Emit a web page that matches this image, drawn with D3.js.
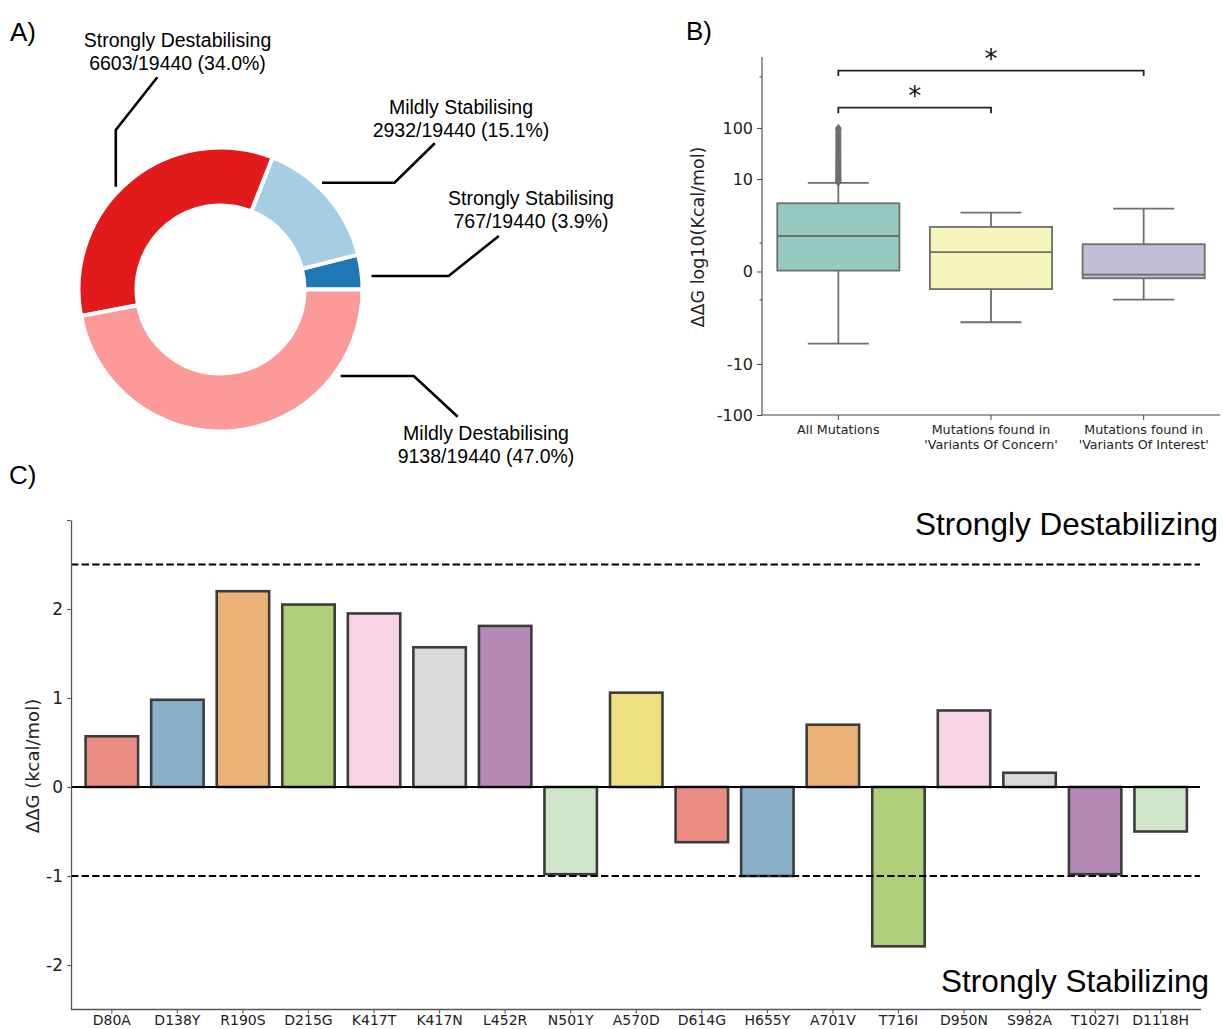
<!DOCTYPE html>
<html>
<head>
<meta charset="utf-8">
<script src="https://cdn.jsdelivr.net/npm/d3@7/dist/d3.min.js"></script>
<style>
  html, body { margin: 0; padding: 0; background: #ffffff; }
  svg { display: block; }
</style>
</head>
<body>
<svg id="chart" width="1223" height="1029"></svg>
<script>
// ---------------- DATA ----------------
// Panel A: donut
const pieLabels = ["Strongly Stabilising", "Mildly Stabilising", "Strongly Destabilising", "Mildly Destabilising"];
const pieCounts = [767, 2932, 6603, 9138];
const pieTotal = 19440;
const pieColors = ["#1f78b4", "#a6cee3", "#e31a1c", "#fb9a99"];

// Panel B: box plots (values in kcal/mol, drawn on symlog axis)
const boxGroups = [["All Mutations"], ["Mutations found in", "'Variants Of Concern'"], ["Mutations found in", "'Variants Of Interest'"]];
const boxQ1 = [0.03, -0.62, -0.24];
const boxMedian = [1.25, 0.68, -0.11];
const boxQ3 = [3.35, 1.57, 0.96];
const whiskerLow = [-4.02, -1.79, -0.99];
const whiskerHigh = [8.37, 2.19, 2.63];
const outliersAll = [8.6, 9.0, 9.4, 9.9, 10.4, 11, 11.7, 12.5, 13.3, 14.2, 15.2, 16.3, 17.5, 18.8, 20.2, 21.8, 23.5, 25.5, 27.6, 30, 32.6, 35.5, 38.6, 42, 46, 50, 55, 60, 66, 72, 79, 87, 95, 99];
const boxTickValues = [-100, -10, 0, 10, 100];
const boxTickLabels = ["-100", "-10", "0", "10", "100"];
const boxMinorTicks = [-1, 1, 1000];
const sigPairs = [[0, 1], [0, 2]];
const sigLevels = [250, 1330];
const sigLabels = ["*", "*"];

// Panel C: bars
const mutations = ["D80A", "D138Y", "R190S", "D215G", "K417T", "K417N", "L452R", "N501Y", "A570D", "D614G", "H655Y", "A701V", "T716I", "D950N", "S982A", "T1027I", "D1118H"];
const ddg = [0.57, 0.98, 2.2, 2.05, 1.95, 1.57, 1.81, -0.98, 1.06, -0.62, -1.0, 0.7, -1.79, 0.86, 0.16, -0.98, -0.5];
const barTickValues = [-2, -1, 0, 1, 2, 3];
const thresholds = [2.5, -1];
const regionLabels = ["Strongly Destabilizing", "Strongly Stabilizing"];

// ---------------- HELPERS ----------------
const svg = d3.select("#chart");
svg.append("rect").attr("width", 1223).attr("height", 1029).attr("fill", "#fff");
const HELV = "'Liberation Sans', Arial, Helvetica, sans-serif";
const DEJA = "'DejaVu Sans', sans-serif";
function desat(c, p) { const h = d3.hsl(c); h.s *= p; return h.formatHex(); }

// panel letters
[["A)", 10, 41], ["B)", 686, 40], ["C)", 9, 484]].forEach(([t, x, y]) => {
  svg.append("text").attr("x", x).attr("y", y).attr("font-family", HELV)
    .attr("font-size", 26).attr("fill", "#000").text(t);
});

// ---------------- PANEL A ----------------
(function () {
  const cx = 220.5, cy = 289.5;
  const g = svg.append("g").attr("transform", `translate(${cx},${cy})`);
  const pie = d3.pie().sort(null).startAngle(Math.PI / 2).endAngle(Math.PI / 2 - 2 * Math.PI);
  const arcs = pie(pieCounts);
  const arc = d3.arc().innerRadius(84).outerRadius(142);
  g.selectAll("path").data(arcs).enter().append("path")
    .attr("d", arc).attr("fill", (d, i) => pieColors[i])
    .attr("stroke", "#fff").attr("stroke-width", 4).attr("stroke-linejoin", "miter");

  // annotation layout (leader-line geometry in panel pixels)
  const ann = [
    { pts: [[371.5, 276], [448.6, 276], [498.8, 236]], tx: 531, ty: 205 },
    { pts: [[322, 182.7], [394.5, 182.7], [434.8, 143.3]], tx: 461, ty: 114.3 },
    { pts: [[115.8, 186.7], [115.8, 130], [157.3, 77.3]], tx: 177.5, ty: 47 },
    { pts: [[340.7, 376], [413.8, 376], [457.7, 416.7]], tx: 486, ty: 440 }
  ];
  const line = d3.line();
  pieLabels.forEach((lab, i) => {
    const a = ann[i];
    svg.append("path").attr("d", line(a.pts)).attr("fill", "none")
      .attr("stroke", "#000").attr("stroke-width", 2.6);
    const pct = (pieCounts[i] / pieTotal * 100).toFixed(1);
    const t = svg.append("text").attr("font-family", HELV).attr("font-size", 19.5)
      .attr("text-anchor", "middle").attr("fill", "#000");
    t.append("tspan").attr("x", a.tx).attr("y", a.ty).text(lab);
    t.append("tspan").attr("x", a.tx).attr("y", a.ty + 23).text(`${pieCounts[i]}/${pieTotal} (${pct}%)`);
  });
})();

// ---------------- PANEL B ----------------
(function () {
  const L = 2, base = 10, linscale = 1 / (1 - 1 / base);
  const T = v => { const a = Math.abs(v); const s = Math.sign(v); return a <= L ? s * a / L * linscale : s * (linscale + Math.log10(a / L)); };
  const left = 762, right = 1220, top = 57, bottom = 415;
  const yT = d3.scaleLinear().domain([T(-100), T(2450)]).range([bottom, top]);
  const y = v => yT(T(v));
  const x = d3.scaleBand().domain(d3.range(boxGroups.length)).range([left, right]).paddingInner(0.2).paddingOuter(0.1);
  const boxPal = d3.schemeSet3.slice(0, 3).map(c => desat(c, 0.75));
  const gray = "#6e6e6e";
  const g = svg.append("g");

  boxGroups.forEach((grp, i) => {
    const cxp = x(i) + x.bandwidth() / 2;
    const w = x.bandwidth();
    // whiskers
    g.append("line").attr("x1", cxp).attr("x2", cxp).attr("y1", y(boxQ3[i])).attr("y2", y(whiskerHigh[i]))
      .attr("stroke", gray).attr("stroke-width", 1.8);
    g.append("line").attr("x1", cxp).attr("x2", cxp).attr("y1", y(boxQ1[i])).attr("y2", y(whiskerLow[i]))
      .attr("stroke", gray).attr("stroke-width", 1.8);
    [whiskerHigh[i], whiskerLow[i]].forEach(v => {
      g.append("line").attr("x1", cxp - w / 4).attr("x2", cxp + w / 4).attr("y1", y(v)).attr("y2", y(v))
        .attr("stroke", gray).attr("stroke-width", 1.8);
    });
    g.append("rect").attr("x", x(i)).attr("width", w)
      .attr("y", y(boxQ3[i])).attr("height", y(boxQ1[i]) - y(boxQ3[i]))
      .attr("fill", boxPal[i]).attr("stroke", gray).attr("stroke-width", 1.8);
    g.append("line").attr("x1", x(i)).attr("x2", x(i) + w).attr("y1", y(boxMedian[i])).attr("y2", y(boxMedian[i]))
      .attr("stroke", gray).attr("stroke-width", 1.8);
  });
  // outliers (thin diamonds)
  const c0 = x(0) + x.bandwidth() / 2;
  g.selectAll("path.fl").data(outliersAll).enter().append("path").attr("class", "fl")
    .attr("d", "M0,-4L3,0L0,4L-3,0Z")
    .attr("transform", v => `translate(${c0},${y(v)})`)
    .attr("fill", gray).attr("stroke", gray).attr("stroke-width", 0.6);

  // axes
  g.append("line").attr("x1", left).attr("x2", left).attr("y1", top).attr("y2", bottom).attr("stroke", "#444").attr("stroke-width", 1.1);
  g.append("line").attr("x1", left).attr("x2", right).attr("y1", bottom).attr("y2", bottom).attr("stroke", "#444").attr("stroke-width", 1.1);
  const yAxis = d3.axisLeft(yT).tickValues(boxTickValues.map(T)).tickFormat((d, i) => boxTickLabels[i]).tickSize(5).tickPadding(4).tickSizeOuter(0);
  const ga = g.append("g").attr("transform", `translate(${left},0)`).call(yAxis);
  ga.select(".domain").remove();
  ga.selectAll("line").attr("stroke", "#444");
  ga.selectAll("text").attr("font-family", DEJA).attr("font-size", 16).attr("fill", "#222");
  boxMinorTicks.forEach(v => {
    g.append("line").attr("x1", left - 2.5).attr("x2", left).attr("y1", y(v)).attr("y2", y(v)).attr("stroke", "#444").attr("stroke-width", 1);
  });
  boxGroups.forEach((grp, i) => {
    const cxp = x(i) + x.bandwidth() / 2;
    g.append("line").attr("x1", cxp).attr("x2", cxp).attr("y1", bottom).attr("y2", bottom + 5).attr("stroke", "#444");
    const t = g.append("text").attr("font-family", DEJA).attr("font-size", 12.7).attr("text-anchor", "middle").attr("fill", "#222");
    grp.forEach((ln, k) => t.append("tspan").attr("x", cxp).attr("y", bottom + 19 + k * 15).text(ln));
  });
  g.append("text").attr("transform", `translate(698,237) rotate(-90)`).attr("text-anchor", "middle")
    .attr("dominant-baseline", "central").attr("font-family", DEJA).attr("font-size", 17.5).attr("fill", "#222")
    .text("ΔΔG log10(Kcal/mol)");

  // significance brackets
  sigPairs.forEach(([a, b], k) => {
    const xa = x(a) + x.bandwidth() / 2, xb = x(b) + x.bandwidth() / 2;
    const yy = y(sigLevels[k]);
    g.append("path").attr("d", `M${xa},${yy + 5.5}V${yy}H${xb}V${yy + 5.5}`)
      .attr("fill", "none").attr("stroke", "#222").attr("stroke-width", 1.8);
    g.append("text").attr("x", (xa + xb) / 2).attr("y", yy - 18 + 15).attr("text-anchor", "middle")
      .attr("font-family", DEJA).attr("font-size", 26).attr("fill", "#111").text(sigLabels[k]);
  });
})();

// ---------------- PANEL C ----------------
(function () {
  const left = 71, x0 = 72.5, x1 = 1200, top = 520, bottom = 1009.5;
  const y = d3.scaleLinear().domain([-2.5, 3]).range([bottom, top]);
  const x = d3.scaleBand().domain(mutations).range([x0, x1]).padding(0.2);
  const pal = d3.schemeSet3.slice(3).map(c => desat(c, 0.75));
  const g = svg.append("g");

  g.selectAll("rect.bar").data(mutations).enter().append("rect").attr("class", "bar")
    .attr("x", d => x(d)).attr("width", x.bandwidth())
    .attr("y", (d, i) => y(Math.max(0, ddg[i])))
    .attr("height", (d, i) => Math.abs(y(ddg[i]) - y(0)))
    .attr("fill", (d, i) => pal[i % pal.length])
    .attr("stroke", "#3c3c3c").attr("stroke-width", 2.6);

  // zero line
  g.append("line").attr("x1", left).attr("x2", x1).attr("y1", y(0)).attr("y2", y(0)).attr("stroke", "#000").attr("stroke-width", 2.2);
  // threshold lines
  thresholds.forEach(v => {
    g.append("line").attr("x1", left).attr("x2", x1).attr("y1", y(v)).attr("y2", y(v))
      .attr("stroke", "#000").attr("stroke-width", 2).attr("stroke-dasharray", "7.4,3.2");
  });

  // axes
  const yAxis = d3.axisLeft(y).tickValues(barTickValues).tickFormat(d => d === 3 ? "" : String(d)).tickSize(4).tickPadding(4).tickSizeOuter(0);
  const ga = g.append("g").attr("transform", `translate(${left},0)`).call(yAxis);
  ga.select(".domain").attr("stroke", "#555").attr("stroke-width", 1.3);
  ga.selectAll(".tick line").attr("stroke", "#555").attr("stroke-width", 1.1);
  ga.selectAll("text").attr("font-family", DEJA).attr("font-size", 17).attr("fill", "#222");

  const xAxis = d3.axisBottom(x).tickSize(4).tickPadding(2).tickSizeOuter(0);
  const gx = g.append("g").attr("transform", `translate(0,${bottom})`).call(xAxis);
  gx.select(".domain").remove();
  g.append("line").attr("x1", left).attr("x2", x1 + 1).attr("y1", bottom).attr("y2", bottom).attr("stroke", "#555").attr("stroke-width", 1.3);
  gx.selectAll(".tick line").attr("stroke", "#555").attr("stroke-width", 1.1);
  gx.selectAll("text").attr("font-family", DEJA).attr("font-size", 14).attr("fill", "#222");

  g.append("text").attr("transform", `translate(32,766) rotate(-90)`).attr("text-anchor", "middle")
    .attr("dominant-baseline", "central").attr("font-family", DEJA).attr("font-size", 18).attr("fill", "#222")
    .text("ΔΔG (kcal/mol)");

  g.append("text").attr("x", 1218).attr("y", 535).attr("text-anchor", "end").attr("font-family", HELV)
    .attr("font-size", 31.5).attr("fill", "#000").text(regionLabels[0]);
  g.append("text").attr("x", 1209).attr("y", 991.5).attr("text-anchor", "end").attr("font-family", HELV)
    .attr("font-size", 31.5).attr("fill", "#000").text(regionLabels[1]);
})();
</script>
</body>
</html>
